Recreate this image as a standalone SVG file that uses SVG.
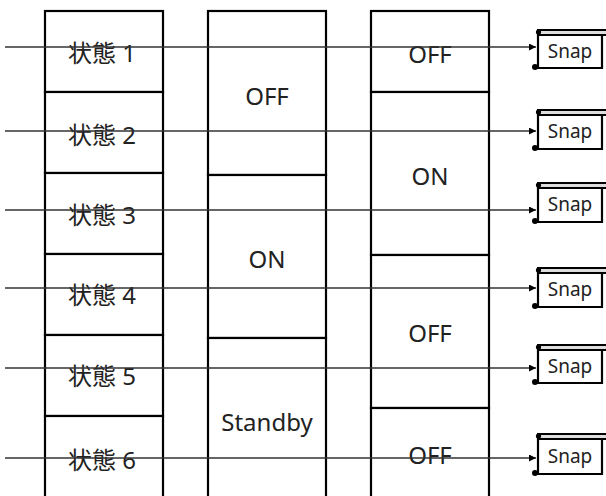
<svg xmlns="http://www.w3.org/2000/svg" width="606" height="496" viewBox="0 0 606 496">
<style>
.box{fill:#fff;stroke:#000;stroke-width:2.2}
.lbl{font-family:"Noto Sans","Noto Sans CJK JP",sans-serif;font-size:24px;fill:#222;text-anchor:middle;dominant-baseline:central}
.snapbox{fill:#fff;stroke:#000;stroke-width:2.2}
.snaptop{fill:#ddd;stroke:#000;stroke-width:2}
.snaptxt{font-family:"Noto Sans",sans-serif;font-size:19px;fill:#222;text-anchor:middle}
.conn{stroke:#333;stroke-width:1.3;fill:none;marker-end:url(#arr)}
</style>
<defs>
<marker id="arr" viewBox="0 0 10 10" refX="10" refY="5" markerWidth="8" markerHeight="7" markerUnits="userSpaceOnUse" orient="auto">
<path d="M0,0 L10,5 L0,10 z" fill="#000"/>
</marker>
</defs>
<rect width="606" height="496" fill="#fff"/>
<g id="col1">
<g id="s1"><rect class="box" x="45" y="11" width="118" height="81"/><text class="lbl" x="102" y="52">状態 1</text></g>
<g id="s2"><rect class="box" x="45" y="92" width="118" height="81"/><text class="lbl" x="102" y="134">状態 2</text></g>
<g id="s3"><rect class="box" x="45" y="173" width="118" height="81"/><text class="lbl" x="102" y="214">状態 3</text></g>
<g id="s4"><rect class="box" x="45" y="254" width="118" height="81"/><text class="lbl" x="102" y="294">状態 4</text></g>
<g id="s5"><rect class="box" x="45" y="335" width="118" height="81"/><text class="lbl" x="102" y="375">状態 5</text></g>
<g id="s6"><rect class="box" x="45" y="416" width="118" height="100"/><text class="lbl" x="102" y="459">状態 6</text></g>
</g>
<g id="col2">
<g id="c2off"><rect class="box" x="208" y="11" width="118" height="164"/><text class="lbl" x="267" y="95">OFF</text></g>
<g id="c2on"><rect class="box" x="208" y="175" width="118" height="163"/><text class="lbl" x="267" y="258">ON</text></g>
<g id="c2sb"><rect class="box" x="208" y="338" width="118" height="180"/><text class="lbl" x="267" y="421">Standby</text></g>
</g>
<g id="col3">
<g id="c3off1"><rect class="box" x="371" y="11" width="118" height="81"/><text class="lbl" x="430" y="53">OFF</text></g>
<g id="c3on"><rect class="box" x="371" y="92" width="118" height="163"/><text class="lbl" x="430" y="175">ON</text></g>
<g id="c3off2"><rect class="box" x="371" y="255" width="118" height="153"/><text class="lbl" x="430" y="332">OFF</text></g>
<g id="c3off3"><rect class="box" x="371" y="408" width="118" height="110"/><text class="lbl" x="430" y="454">OFF</text></g>
</g>
<g id="snap1"><rect class="snaptop" x="538" y="30" width="70" height="5"/><path class="snapbox" d="M538,35 H602 V68 H534"/><line x1="538" y1="31" x2="538" y2="68" stroke="#000" stroke-width="2.2"/><circle cx="538.5" cy="32" r="2.6"/><circle cx="535" cy="67" r="3"/><text class="snaptxt" x="570" y="58">Snap</text></g>
<g id="snap2"><rect class="snaptop" x="538" y="110" width="70" height="5"/><path class="snapbox" d="M538,115 H602 V149 H534"/><line x1="538" y1="111" x2="538" y2="149" stroke="#000" stroke-width="2.2"/><circle cx="538.5" cy="112" r="2.6"/><circle cx="535" cy="148" r="3"/><text class="snaptxt" x="570" y="138">Snap</text></g>
<g id="snap3"><rect class="snaptop" x="538" y="183" width="70" height="5"/><path class="snapbox" d="M538,188 H602 V222 H534"/><line x1="538" y1="184" x2="538" y2="222" stroke="#000" stroke-width="2.2"/><circle cx="538.5" cy="185" r="2.6"/><circle cx="535" cy="221" r="3"/><text class="snaptxt" x="570" y="211">Snap</text></g>
<g id="snap4"><rect class="snaptop" x="538" y="268" width="70" height="5"/><path class="snapbox" d="M538,273 H602 V307 H534"/><line x1="538" y1="269" x2="538" y2="307" stroke="#000" stroke-width="2.2"/><circle cx="538.5" cy="270" r="2.6"/><circle cx="535" cy="306" r="3"/><text class="snaptxt" x="570" y="296">Snap</text></g>
<g id="snap5"><rect class="snaptop" x="538" y="345" width="70" height="5"/><path class="snapbox" d="M538,350 H602 V383 H534"/><line x1="538" y1="346" x2="538" y2="383" stroke="#000" stroke-width="2.2"/><circle cx="538.5" cy="347" r="2.6"/><circle cx="535" cy="382" r="3"/><text class="snaptxt" x="570" y="373">Snap</text></g>
<g id="snap6"><rect class="snaptop" x="538" y="434" width="70" height="5"/><path class="snapbox" d="M538,439 H602 V474 H534"/><line x1="538" y1="435" x2="538" y2="474" stroke="#000" stroke-width="2.2"/><circle cx="538.5" cy="436" r="2.6"/><circle cx="535" cy="473" r="3"/><text class="snaptxt" x="570" y="463">Snap</text></g>
<g id="connectors">
<line class="conn" x1="5" y1="47" x2="536" y2="47"/>
<line class="conn" x1="5" y1="131" x2="536" y2="131"/>
<line class="conn" x1="5" y1="210" x2="536" y2="210"/>
<line class="conn" x1="5" y1="288" x2="536" y2="288"/>
<line class="conn" x1="5" y1="368" x2="536" y2="368"/>
<line class="conn" x1="5" y1="458" x2="536" y2="458"/>
</g>
</svg>
